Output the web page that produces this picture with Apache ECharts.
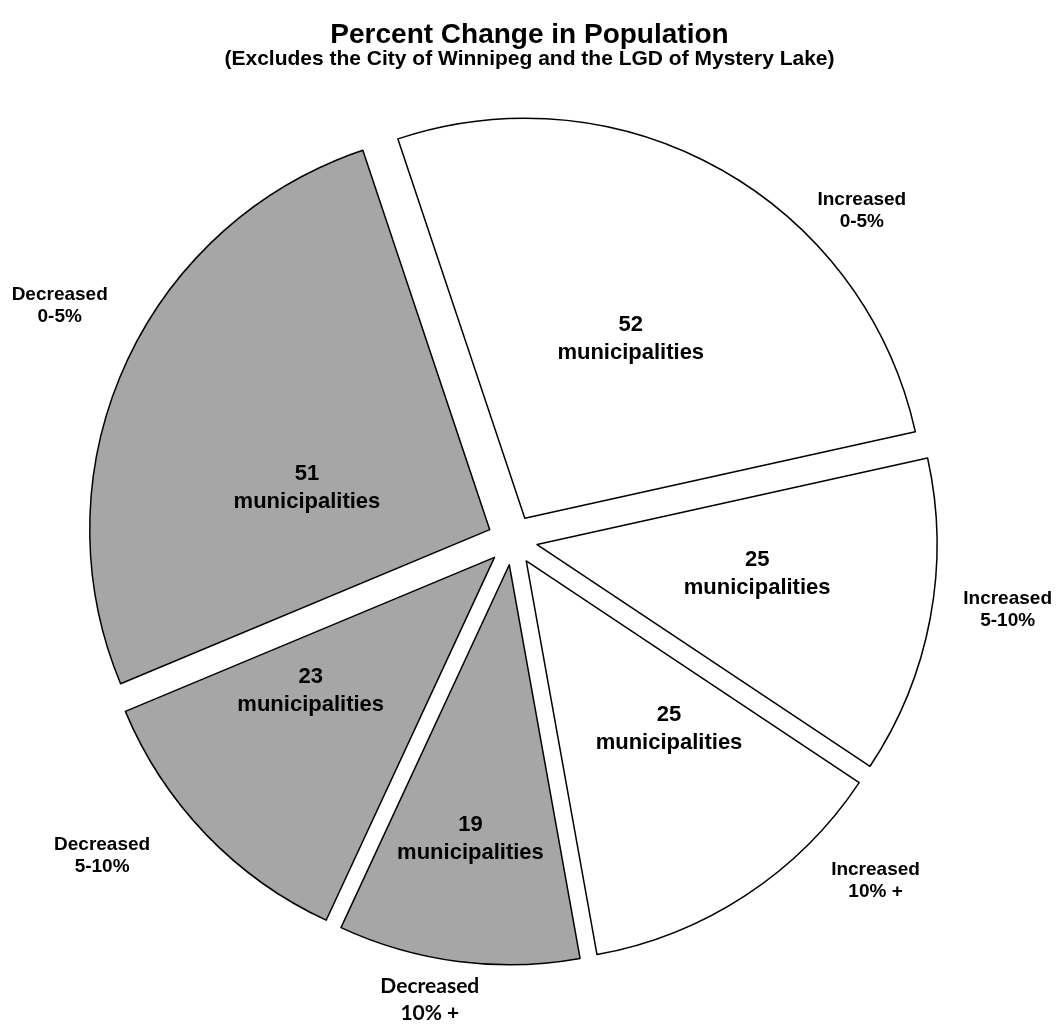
<!DOCTYPE html>
<html>
<head>
<meta charset="utf-8">
<script src="https://cdn.jsdelivr.net/npm/echarts@6/dist/echarts.min.js"></script>
<style>
html,body{margin:0;padding:0;background:#ffffff;}
#chart{width:1059px;height:1025px;}
</style>
</head>
<body>
<div id="chart"></div>
<script>
// ---- data ----
const categories = ['Increased\n0-5%', 'Increased\n5-10%', 'Increased\n10% +', 'Decreased\n10% +', 'Decreased\n5-10%', 'Decreased\n0-5%'];
const counts = [52, 25, 25, 19, 23, 51];
const unitLabel = 'municipalities';
const titleText = 'Percent Change in Population';
const subtitleText = '(Excludes the City of Winnipeg and the LGD of Mystery Lake)';

// ---- styles / layout ----
const sliceColors = ['#FFFFFF', '#FFFFFF', '#FFFFFF', '#A6A6A6', '#A6A6A6', '#A6A6A6'];
const CX = 512.5, CY = 540, R = 400, START = 108.5;
// label placement: [angle (deg, ccw from 3 o'clock), distance from pie centre (px)]
const innerLabelPolar = [[59.5, 233], [-7.9, 247], [-50.3, 245], [-98.0, 302], [-143.2, 252], [165.8, 212]];
const outerLabelPolar = [[43.3, 480], [-8.0, 500], [-43.2, 498], [-100.2, 467], [-142.4, 518], [152.6, 510]];

function polarLayout(table) {
  return function (p) {
    const a = table[p.dataIndex][0] * Math.PI / 180;
    const r = table[p.dataIndex][1];
    return { x: CX + r * Math.cos(a), y: CY - r * Math.sin(a), align: 'center', verticalAlign: 'middle' };
  };
}

const chart = echarts.init(document.getElementById('chart'), null, { renderer: 'canvas' });

const sliceData = counts.map((v, i) => ({
  name: categories[i],
  value: v,
  selected: true,
  itemStyle: { color: sliceColors[i], borderColor: '#000000', borderWidth: 1.5 },
  select: { itemStyle: { color: sliceColors[i], borderColor: '#000000', borderWidth: 1.5 } }
}));

const innerData = counts.map((v, i) => ({ name: categories[i], value: v }));

const outerData = counts.map((v, i) => {
  const item = { name: categories[i], value: v };
  if (i === 3) {
    item.label = { fontFamily: 'Lato', fontSize: 21, lineHeight: 27 };
  }
  return item;
});

const labelSeriesBase = {
  type: 'pie',
  silent: true,
  center: [CX, CY],
  radius: [0, R],
  startAngle: START,
  clockwise: true,
  avoidLabelOverlap: false,
  emphasis: { disabled: true, scale: false },
  itemStyle: { color: 'rgba(0,0,0,0)', borderWidth: 0 },
  labelLine: { show: false }
};

chart.setOption({
  animation: false,
  backgroundColor: '#ffffff',
  title: [
    { text: titleText, left: 'center', top: 16,
      textStyle: { fontFamily: 'Liberation Sans', fontWeight: 'bold', fontSize: 28, color: '#000000' } },
    { text: subtitleText, left: 'center', top: 44,
      textStyle: { fontFamily: 'Liberation Sans', fontWeight: 'bold', fontSize: 21, color: '#000000' } }
  ],
  series: [
    {
      type: 'pie',
      center: [CX, CY],
      radius: [0, R],
      startAngle: START,
      clockwise: true,
      selectedMode: 'multiple',
      selectedOffset: 25,
      avoidLabelOverlap: false,
      emphasis: { disabled: true, scale: false },
      label: { show: false },
      labelLine: { show: false },
      data: sliceData
    },
    Object.assign({}, labelSeriesBase, {
      label: {
        show: true, position: 'inside',
        formatter: function (p) { return p.value + '\n' + unitLabel; },
        fontFamily: 'Liberation Sans', fontWeight: 'bold', fontSize: 22, lineHeight: 28, color: '#000000'
      },
      labelLayout: polarLayout(innerLabelPolar),
      data: innerData
    }),
    Object.assign({}, labelSeriesBase, {
      label: {
        show: true, position: 'inside',
        formatter: function (p) { return p.name; },
        fontFamily: 'Liberation Sans', fontWeight: 'bold', fontSize: 19, lineHeight: 22, color: '#000000'
      },
      labelLayout: polarLayout(outerLabelPolar),
      data: outerData
    })
  ]
});
</script>
</body>
</html>
